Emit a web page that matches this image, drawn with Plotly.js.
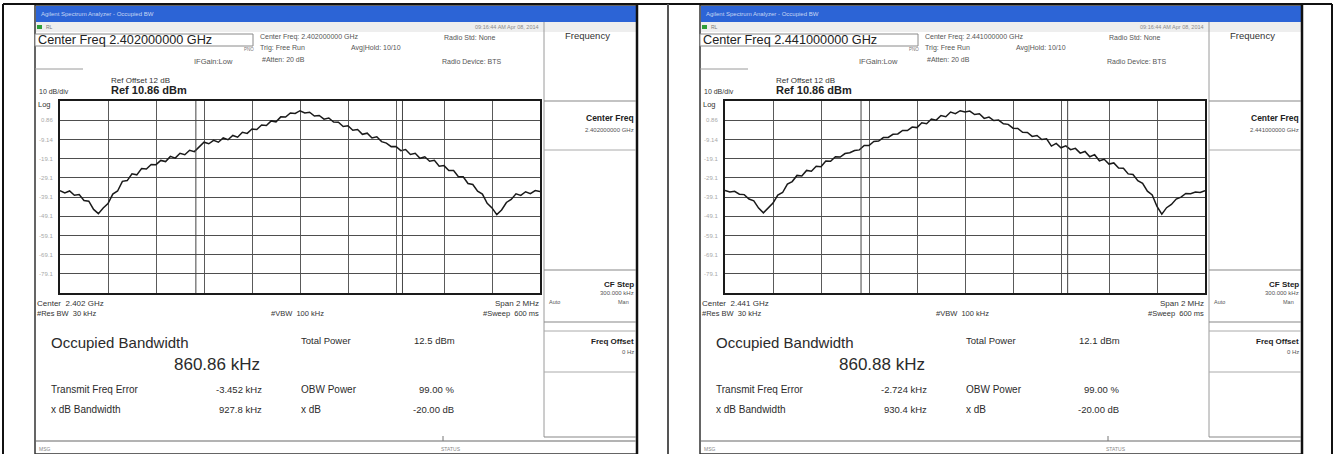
<!DOCTYPE html>
<html><head><meta charset="utf-8">
<script src="https://cdn.plot.ly/plotly-3.0.1.min.js"></script>
<style>html,body{margin:0;padding:0;background:#fff}#chart{width:1336px;height:454px}</style>
</head><body><div id="chart"></div>
<script>
// ---- data ----
const freqOffsetMHz = [-1.00,-0.98,-0.96,-0.94,-0.92,-0.90,-0.88,-0.86,-0.84,-0.82,
 -0.80,-0.78,-0.76,-0.74,-0.72,-0.70,-0.68,-0.66,-0.64,-0.62,
 -0.60,-0.58,-0.56,-0.54,-0.52,-0.50,-0.48,-0.46,-0.44,-0.42,
 -0.40,-0.38,-0.36,-0.34,-0.32,-0.30,-0.28,-0.26,-0.24,-0.22,
 -0.20,-0.18,-0.16,-0.14,-0.12,-0.10,-0.08,-0.06,-0.04,-0.02,
 0.00,0.02,0.04,0.06,0.08,0.10,0.12,0.14,0.16,0.18,
 0.20,0.22,0.24,0.26,0.28,0.30,0.32,0.34,0.36,0.38,
 0.40,0.42,0.44,0.46,0.48,0.50,0.52,0.54,0.56,0.58,
 0.60,0.62,0.64,0.66,0.68,0.70,0.72,0.74,0.76,0.78,
 0.80,0.82,0.84,0.86,0.88,0.90,0.92,0.94,0.96,0.98,1.00];
const level2402 = [-35.8,-37.0,-36.0,-38.2,-37.9,-41.0,-41.3,-45.6,-47.8,-44.9,
 -42.6,-37.6,-36.0,-31.0,-30.6,-27.1,-27.6,-24.3,-24.6,-22.2,
 -22.3,-20.1,-20.7,-18.0,-18.9,-16.4,-17.1,-14.8,-15.5,-13.0,
 -10.6,-11.4,-9.6,-10.6,-8.4,-9.3,-7.1,-8.0,-5.4,-6.0,
 -3.7,-4.0,-1.6,-1.9,0.5,0.0,2.6,2.5,4.6,4.4,
 5.8,4.6,5.0,3.0,3.3,1.4,2.0,-0.1,-0.2,-2.4,
 -2.0,-4.4,-4.0,-6.5,-5.9,-8.4,-7.8,-10.3,-11.1,-12.9,
 -12.8,-15.0,-14.4,-17.0,-16.4,-19.0,-18.2,-20.5,-20.0,-23.1,
 -22.8,-25.4,-25.4,-28.6,-28.6,-32.1,-32.6,-36.1,-37.6,-42.4,
 -44.8,-48.3,-45.9,-42.0,-40.4,-37.5,-38.3,-36.4,-37.4,-35.8,-36.3];
const level2441 = [-35.7,-36.5,-36.2,-37.7,-37.9,-40.2,-41.1,-44.9,-47.4,-44.6,
 -42.3,-38.1,-36.8,-32.4,-31.1,-27.9,-28.2,-25.3,-25.7,-23.1,
 -23.4,-20.4,-20.5,-18.2,-18.3,-16.5,-16.1,-14.9,-14.6,-12.3,
 -12.3,-10.2,-10.0,-8.2,-8.1,-6.5,-6.3,-4.5,-4.5,-2.7,
 -3.0,-0.5,-1.0,1.5,0.9,3.3,2.7,5.1,4.3,5.8,
 5.2,5.6,3.8,4.2,1.8,2.5,0.7,0.9,-1.0,-1.3,
 -3.3,-3.4,-5.4,-5.5,-7.6,-7.1,-9.2,-8.8,-12.6,-11.2,
 -13.5,-12.5,-14.5,-13.8,-16.3,-15.4,-18.2,-17.1,-20.3,-19.5,
 -22.0,-21.4,-24.0,-24.2,-27.1,-27.4,-30.6,-32.0,-36.1,-38.1,
 -44.1,-48.1,-44.7,-43.0,-40.2,-39.2,-37.3,-37.4,-36.5,-36.8,-35.8];
const refLevelDbm = 10.86;
const dbPerDiv = 10;
const yGridVals = [0.86,-9.14,-19.14,-29.14,-39.14,-49.14,-59.14,-69.14,-79.14];
const yGridText = ['0.86','-9.14','-19.1','-29.1','-39.1','-49.1','-59.1','-69.1','-79.1'];
const centerFreqLong = ['2.402000000 GHz','2.441000000 GHz'];
const centerFreqShort = ['2.402 GHz','2.441 GHz'];
const occBwKHz = [860.86, 860.88];
const freqErrorKHz = [-3.452, -2.724];
const xdbBwKHz = [927.8, 930.4];
const totalPowerDbm = [12.5, 12.1];
const obwPowerPct = [99.00, 99.00];
const xdbSettingDb = [-20.00, -20.00];

// ---- layout helpers (pixel -> paper) ----
const W = 1336, H = 454;
const FONT = 'Liberation Sans, Arial, sans-serif';
const px = v => v / W, py = v => 1 - v / H;
const shapes = [], ann = [];
function line(x0,y0,x1,y1,color,width){shapes.push({type:'line',xref:'paper',yref:'paper',x0:px(x0),y0:py(y0),x1:px(x1),y1:py(y1),line:{color:color,width:width||1}});}
function rect(x0,y0,x1,y1,fill,lc,lw){shapes.push({type:'rect',xref:'paper',yref:'paper',x0:px(x0),y0:py(y0),x1:px(x1),y1:py(y1),fillcolor:fill||'rgba(0,0,0,0)',line:{color:lc||'rgba(0,0,0,0)',width:lw||0},layer:'below'});}
function txt(x,y,text,size,o){o=o||{};ann.push({xref:'paper',yref:'paper',x:px(x),y:py(y),text:text,showarrow:false,xanchor:o.anchor||'left',yanchor:'middle',borderpad:0,font:{family:FONT,size:size,color:o.color||'#2b2b2b',weight:o.bold?'bold':'normal'}});}

// outer table
line(3,4,1332,4,'#111',2);
line(3,4,3,454,'#111',2);
line(668,4,668,454,'#555',2);
line(1332,4,1332,454,'#111',2);

const OX = [0, 665];
OX.forEach((ox, i) => {
  // screenshot frame
  rect(35+ox,5,637+ox,454,'#ffffff','#333',1.5);
  line(637+ox,5,637+ox,454,'#111',2.5);
  // title bar
  rect(36+ox,6,636+ox,22,'#2c64d6');
  txt(40+ox,14,'Agilent Spectrum Analyzer - Occupied BW',6,{color:'#c8d6f4'});
  // toolbar row
  rect(36+ox,22,636+ox,32,'#eeeeee');
  rect(37+ox,25,42+ox,29,'#2e9d3a');
  txt(45+ox,27,'RL',5,{color:'#777'});
  txt(540+ox,27,'09:16:44 AM Apr 08, 2014',5.5,{anchor:'right',color:'#888'});
  // header
  rect(35+ox,34,253+ox,46,'#ffffff','#8a8a8a',1);
  txt(37+ox,40.5,'Center Freq '+centerFreqLong[i],12.7,{color:'#222'});
  txt(259+ox,37,'Center Freq: '+centerFreqLong[i],7,{color:'#555'});
  txt(259+ox,48,'Trig: Free Run',7,{color:'#555'});
  txt(350+ox,48,'Avg|Hold: 10/10',7,{color:'#555'});
  txt(261+ox,59,'#Atten: 20 dB',7,{color:'#555'});
  txt(443+ox,38,'Radio Std: None',7,{color:'#555'});
  txt(441+ox,61,'Radio Device: BTS',7,{color:'#555'});
  txt(243+ox,50,'PNO',4.5,{color:'#777'});
  txt(193+ox,62,'IFGain:Low',7.5,{color:'#555'});
  line(35+ox,69,83+ox,69,'#9a9a9a',1);
  txt(110+ox,81,'Ref Offset 12 dB',8,{color:'#333'});
  txt(38+ox,91,'10 dB/div',7,{color:'#333'});
  txt(110+ox,90,'Ref '+refLevelDbm.toFixed(2)+' dBm',11,{color:'#222',bold:true});
  txt(37+ox,104,'Log',7.5,{color:'#333'});
  // below plot
  txt(36+ox,303,'Center  '+centerFreqShort[i],8,{color:'#333'});
  txt(36+ox,313,'#Res BW  30 kHz',7.5,{color:'#333'});
  txt(297+ox,313,'#VBW  100 kHz',7.5,{color:'#333',anchor:'center'});
  txt(540+ox,303,'Span 2 MHz',8,{color:'#333',anchor:'right'});
  txt(540+ox,313,'#Sweep  600 ms',7.5,{color:'#333',anchor:'right'});
  // results
  txt(50+ox,342,'Occupied Bandwidth',15,{color:'#2b2b2b'});
  txt(217+ox,364,occBwKHz[i].toFixed(2)+' kHz',17,{color:'#2b2b2b',anchor:'center'});
  txt(300+ox,340,'Total Power',9.5,{color:'#2b2b2b'});
  txt(413+ox,340,totalPowerDbm[i].toFixed(1)+' dBm',9.5,{color:'#2b2b2b'});
  txt(50+ox,389,'Transmit Freq Error',10,{color:'#2b2b2b'});
  txt(263+ox,389,freqErrorKHz[i].toFixed(3)+' kHz',9.5,{color:'#2b2b2b',anchor:'right'});
  txt(300+ox,389,'OBW Power',10,{color:'#2b2b2b'});
  txt(418+ox,389,obwPowerPct[i].toFixed(2)+' %',9.5,{color:'#2b2b2b'});
  txt(50+ox,409,'x dB Bandwidth',10,{color:'#2b2b2b'});
  txt(263+ox,409,xdbBwKHz[i].toFixed(1)+' kHz',9.5,{color:'#2b2b2b',anchor:'right'});
  txt(300+ox,409,'x dB',10,{color:'#2b2b2b'});
  txt(412+ox,409,xdbSettingDb[i].toFixed(2)+' dB',9.5,{color:'#2b2b2b'});
  // status bar
  line(36+ox,441,636+ox,441,'#9a9a9a',1.5);
  line(443+ox,436,443+ox,441,'#777',1);
  txt(38+ox,449,'MSG',5,{color:'#888'});
  txt(440+ox,449,'STATUS',5,{color:'#888'});
  // softkey panel
  line(544+ox,22,544+ox,437,'#9a9a9a',1);
  txt(564+ox,36,'Frequency',9.5,{color:'#333'});
  line(544+ox,101,636+ox,101,'#888',1.2);
  line(544+ox,150,636+ox,150,'#aaa',1);
  txt(635+ox,118,'Center Freq',8.5,{color:'#222',anchor:'right',bold:true});
  txt(635+ox,130,centerFreqLong[i],6,{color:'#555',anchor:'right'});
  line(544+ox,270,636+ox,270,'#888',1.2);
  txt(635+ox,284,'CF Step',8,{color:'#222',anchor:'right',bold:true});
  txt(635+ox,293,'300.000 kHz',6,{color:'#555',anchor:'right'});
  txt(548+ox,302,'Auto',5.5,{color:'#555'});
  txt(630+ox,302,'Man',5.5,{color:'#555',anchor:'right'});
  line(544+ox,322,636+ox,322,'#888',1.2);
  line(544+ox,331,636+ox,331,'#aaa',1);
  txt(635+ox,341,'Freq Offset',8,{color:'#222',anchor:'right',bold:true});
  txt(635+ox,352,'0 Hz',6,{color:'#555',anchor:'right'});
  line(544+ox,372,636+ox,372,'#aaa',1);
  line(544+ox,437,636+ox,437,'#888',1.2);
});

// OBW marker lines (computed from measured center error and bandwidth)
const axesIds = [['x','y'],['x2','y2']];
axesIds.forEach((ax, i) => {
  const c = freqErrorKHz[i] / 1000, half = occBwKHz[i] / 2000;
  [c - half, c + half].forEach(f => shapes.push({type:'line',xref:ax[0],yref:ax[1]+' domain',x0:f,x1:f,y0:0,y1:1,line:{color:'#444',width:1}}));
});

const yBottom = refLevelDbm - 10 * dbPerDiv;
function xax(domain){return {domain:domain,range:[-1,1],tick0:-1,dtick:0.2,showgrid:true,gridcolor:'#5a5a5a',gridwidth:1,zeroline:false,showline:true,mirror:true,linecolor:'#1a1a1a',linewidth:2,showticklabels:false,ticks:'',fixedrange:true};}
function yax(){return {domain:[py(293),py(101)],range:[yBottom,refLevelDbm],tickmode:'array',tickvals:yGridVals,ticktext:yGridText,tickfont:{family:FONT,size:6,color:'#a8a8a8'},ticklabelstandoff:4,showgrid:true,gridcolor:'#4e4e4e',gridwidth:1,zeroline:false,showline:true,mirror:true,linecolor:'#1a1a1a',linewidth:2,ticks:'',fixedrange:true};}
const y2 = yax(); y2.anchor = 'x2';
const x2 = xax([px(725),px(1205)]); x2.anchor = 'y2';

const traces = [
  {x:freqOffsetMHz,y:level2402,type:'scatter',mode:'lines',xaxis:'x',yaxis:'y',line:{color:'#1a1a1a',width:1.5},hoverinfo:'skip'},
  {x:freqOffsetMHz,y:level2441,type:'scatter',mode:'lines',xaxis:'x2',yaxis:'y2',line:{color:'#1a1a1a',width:1.5},hoverinfo:'skip'}
];
const layout = {
  width:W,height:H,margin:{l:0,r:0,t:0,b:0},paper_bgcolor:'#ffffff',plot_bgcolor:'#ffffff',showlegend:false,
  xaxis:xax([px(60),px(540)]),yaxis:yax(),xaxis2:x2,yaxis2:y2,
  shapes:shapes,annotations:ann
};
Plotly.newPlot('chart',traces,layout,{displayModeBar:false,staticPlot:true});
</script></body></html>
